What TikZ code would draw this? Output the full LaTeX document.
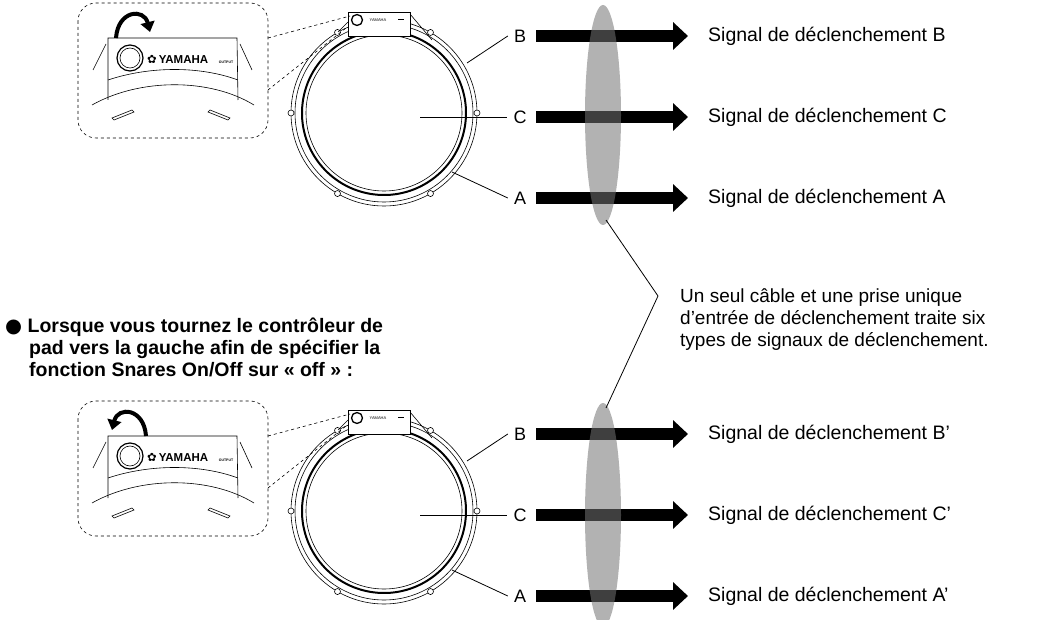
\documentclass[tikz,border=0pt]{standalone}
\usepackage{fontspec}
\setmainfont{Liberation Sans}
\newfontfamily\dejavu{DejaVu Sans}
\newfontfamily\condb{Liberation Sans Bold}
\usetikzlibrary{arrows.meta,shapes.geometric}
\begin{document}
\begin{tikzpicture}[x=1pt,y=-1pt,
  lbl/.style={font=\fontsize{18}{18}\selectfont,inner sep=0pt},
  sig/.style={font=\fontsize{19.5}{20}\selectfont,anchor=west,inner sep=0pt},
  fat/.style={line width=12pt,-{Triangle[length=15pt,width=27pt]}},
  lead/.style={line width=0.8pt},
  cable/.style={fill=black!55,fill opacity=0.55,draw=none},
  pline/.style={line width=0.6pt}]
\useasboundingbox (0,0) rectangle (1037,620);
\newcommand\drawpad[2]{%
 \begin{scope}[shift={(0,#1)}]
  \draw[pline] (384,113) circle (93);
  \draw[pline] (384,113) circle (89);
  \draw[line width=2pt] (384,113) ++(100:82) arc (100:460:82);
  \draw[pline] (384,113) circle (78);
  \foreach \a in {-60,-120,0,180,60,120} \draw[pline,fill=white] (384,113) ++(\a:93) circle (3);
  \draw[pline,fill=white] (348,12) rectangle (410,36);
  \draw[pline] (348,22) -- (338,32) (410,14) -- (432,40);
  \draw[line width=1.3pt,fill=white] (357,20) circle (5.5);
  \node[font=\fontsize{4}{4}\selectfont,inner sep=0pt] at (378,20) {YAMAHA};
  \draw[line width=1pt] (398,20)--(404,20);
  \draw[dashed,pline,rounded corners=18] (78,3) rectangle (268,138);
  \draw[dashed,pline] (268,38) -- (350,16) (268,90) -- (346,28);
  \draw[pline] (108,100) -- (108,38) -- (237,38) -- (238,100);
  \draw[pline] (108,80) .. controls (150,66) and (200,66) .. (238,80);
  \draw[pline] (92,105) .. controls (140,78) and (210,78) .. (254,105);
  \draw[pline] (93,70) -- (106,44) (252,70) -- (240,44);
  \draw[pline] (112,118) -- (132,110) -- (134,112) -- (114,120) -- cycle;
  \draw[pline] (210,110) -- (230,118) -- (228,120) -- (208,112) -- cycle;
  \draw[line width=1.2pt] (130,58) circle (13);
  \draw[pline] (130,58) circle (10);
  \node[font=\bfseries\fontsize{11.5}{12}\selectfont,inner sep=0pt,anchor=west] at (147,59) {{\dejavu ✿}\,YAMAHA};
  \node[font=\bfseries\fontsize{3.5}{4}\selectfont,inner sep=0pt] at (226,62) {OUTPUT};
  #2
 \end{scope}}
\drawpad{0}{\draw[line width=4pt,-{Triangle[length=10pt,width=14pt]}] (116,38) .. controls (118,10) and (144,8) .. (150,32);}
\drawpad{398}{\draw[line width=4pt,-{Triangle[length=10pt,width=14pt]}] (146,38) .. controls (144,10) and (118,8) .. (112,32);}
\foreach \o/\p in {0/,398/’}{
 \begin{scope}[shift={(0,\o)}]
 \node[lbl] (B\o) at (520,36) {B};
 \node[lbl] (C\o) at (520,117) {C};
 \node[lbl] (A\o) at (520,198) {A};
 \coordinate (pb\o) at (467,63); \coordinate (pc\o) at (420,117); \coordinate (pa\o) at (452,172);
 \draw[lead] (pb\o) -- ([xshift=-6pt]B\o.west); \draw[lead] (pc\o) -- ([xshift=-6pt]C\o.west); \draw[lead] (pa\o) -- ([xshift=-6pt]A\o.west);
 \foreach \r/\y in {B/36,C/117,A/198}{
   \node[sig] (s\r\o) at (708,\y) {Signal de déclenchement \r\p};
   \draw[fat] (536,\y) -- (688,\y);}
 \end{scope}}
\fill[cable] (603,115) ellipse (18 and 110);
\fill[cable] (603,515) ellipse (18 and 112);
\coordinate (t1) at (606,220); \coordinate (t2) at (606,408); \coordinate (apex) at (658,296);
\draw[lead] (t1) -- (apex) -- (t2);
\node[anchor=north west,align=left,inner sep=0pt,font=\fontsize{19}{22}\selectfont] (note) at (680,288) {Un seul câble et une prise unique\\d’entrée de déclenchement traite six\\types de signaux de déclenchement.};
\node[anchor=north west,align=left,inner sep=0pt,font=\condb\fontsize{19.5}{22}\selectfont] (head) at (5,318) {{\dejavu ●}\ Lorsque vous tournez le contrôleur de\\\hspace*{24pt}pad vers la gauche afin de spécifier la\\\hspace*{24pt}fonction Snares On/Off sur « off » :};
\end{tikzpicture}
\end{document}
